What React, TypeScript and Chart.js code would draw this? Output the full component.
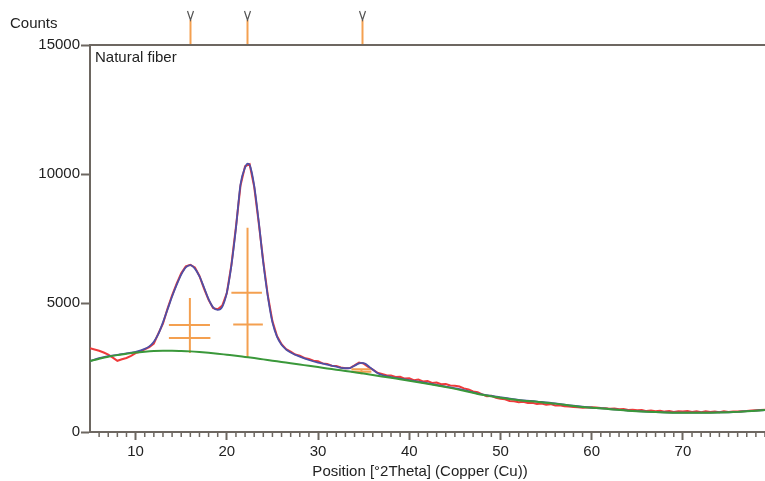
import React, { useEffect, useRef } from "react";
import { Chart, registerables } from "chart.js";

Chart.register(...registerables);

// ---- data ----
const obsStart = 5;
const obsStep = 0.5;
const observedCounts = [
  3250, 3200, 3150, 3080, 3000, 2880, 2760, 2820, 2870, 2950,
  3060, 3110, 3200, 3290, 3430, 3820, 4200, 4780, 5300, 5750,
  6150, 6420, 6480, 6380, 6050, 5560, 5120, 4800, 4760, 4900,
  5380, 6480, 7950, 9550, 10300, 10380, 9500, 8100, 6600, 5280,
  4300, 3720, 3400, 3210, 3120, 3000, 2960, 2870, 2830, 2760,
  2740, 2660, 2640, 2570, 2560, 2500, 2470, 2480, 2580, 2690,
  2650, 2520, 2420, 2300, 2250, 2200, 2190, 2130, 2140, 2070,
  2080, 2010, 2030, 1960, 1980, 1900, 1920, 1850, 1860, 1800,
  1790, 1760, 1690, 1650, 1570, 1540, 1460, 1390, 1400, 1330,
  1290, 1270, 1200, 1190, 1150, 1170, 1120, 1130, 1090, 1100,
  1060, 1080, 1030, 1040, 1000, 990, 970, 960, 940, 950,
  960, 950, 930, 920, 900, 910, 880, 890, 850, 860,
  840, 850, 810, 830, 800, 820, 790, 810, 780, 800,
  790, 810, 780, 800, 770, 800, 780, 790, 770, 800,
  780, 790, 790, 800, 810, 830, 840, 850, 860,
];

const fitPos = [
  5, 6, 7, 8, 9, 10, 11, 11.5, 12, 12.5, 13, 13.5, 14, 14.5, 15, 15.5, 16, 16.5,
  17, 17.5, 18, 18.5, 19, 19.5, 20, 20.5, 21, 21.5, 22, 22.3, 22.5, 23, 23.5, 24,
  24.5, 25, 25.5, 26, 26.5, 27, 28, 29, 30, 31, 32, 33, 33.5, 34, 34.5, 34.8, 35.2,
  35.6, 36, 36.5, 37, 38, 39, 40, 42, 44, 46, 48, 50, 52, 54, 56, 58, 60, 62, 64,
  66, 68, 70, 72, 74, 76, 78, 79,
];
const fitCounts = [
  2750, 2860, 2940, 2990, 3050, 3110, 3220, 3320, 3500, 3800, 4250, 4750, 5250, 5700, 6100, 6380, 6470, 6330,
  6030, 5600, 5150, 4830, 4730, 4850, 5400, 6450, 7900, 9600, 10250, 10400, 10350, 9550, 8150, 6550,
  5250, 4250, 3700, 3380, 3200, 3080, 2920, 2790, 2690, 2610, 2530, 2470, 2480, 2570, 2660, 2680, 2640,
  2530, 2420, 2290, 2210, 2130, 2070, 2010, 1890, 1760, 1620, 1455, 1345, 1248, 1180, 1108, 1018, 946, 890, 830,
  790, 764, 753, 750, 757, 782, 826, 851,
];

const bgPos = [
  5, 6, 7, 8, 9, 10, 11, 12, 13, 14, 15, 16, 17, 18, 19, 20, 21, 22, 23, 24, 25, 26,
  27, 28, 29, 30, 31, 32, 33, 34, 35, 36, 37, 38, 39, 40, 42, 44, 46, 48, 50, 52,
  54, 56, 58, 60, 62, 64, 66, 68, 70, 72, 74, 76, 78, 79,
];
const bgCounts = [
  2750, 2840, 2920, 2980, 3030, 3080, 3115, 3140, 3150, 3150, 3140, 3125, 3100, 3070, 3035, 2995, 2955, 2910, 2865, 2815, 2765, 2715,
  2665, 2615, 2565, 2515, 2465, 2415, 2365, 2315, 2265, 2210, 2155, 2100, 2045, 1990, 1870, 1740, 1600, 1440, 1330, 1235,
  1170, 1100, 1010, 940, 885, 825, 785, 760, 750, 748, 755, 780, 825, 850,
];

// peak markers (orange crosses)
const peakPos = [15.95, 22.27, 34.76];
const peakTop = [5190, 7920, 2470];
const peakBase = [3060, 2870, 2240];
const barUpperY = [4150, 5400, 2430];
const barUpperFrom = [13.65, 20.5, 33.66];
const barUpperTo = [18.15, 23.85, 35.85];
const barLowerY = [3640, 4170, 2340];
const barLowerFrom = [13.65, 20.7, 33.66];
const barLowerTo = [18.2, 23.95, 35.85];

// reference lines above the plot
const refLinePos = [15.96, 22.2, 34.8];

const xTicks = [10, 20, 30, 40, 50, 60, 70];
const yTicks = [0, 5000, 10000, 15000];
const xMin = 5;
const xMax = 79;
const yMax = 15000;

const sampleName = "Natural fiber";
const yLabel = "Counts";
const xLabel = "Position [°2Theta] (Copper (Cu))";

// ---- styles ----
const AXIS = "#6d6761";
const TEXT = "#222222";
const RED = "#ee3b3b";
const BLUE = "#4e4fa6";
const GREEN = "#3a983a";
const ORANGE = "#f4a050";
const FONT = "'Liberation Sans', Arial, sans-serif";

const decor = {
  id: "decor",
  afterDraw(chart: any) {
    const { ctx, chartArea: a } = chart;
    const x = chart.scales.x;
    ctx.save();
    // top frame line
    ctx.strokeStyle = AXIS;
    ctx.lineWidth = 2;
    ctx.beginPath();
    ctx.moveTo(a.left, a.top);
    ctx.lineTo(a.right, a.top);
    ctx.stroke();
    // minor ticks
    ctx.lineWidth = 1.5;
    ctx.beginPath();
    for (let v = Math.ceil(xMin) + 1; v <= xMax; v++) {
      if (v % 10 === 0) continue;
      const px = x.getPixelForValue(v);
      ctx.moveTo(px, a.bottom);
      ctx.lineTo(px, a.bottom + 5);
    }
    ctx.stroke();
    // reference lines above plot
    refLinePos.forEach((p) => {
      const px = Math.round(x.getPixelForValue(p)) + 0.5;
      ctx.strokeStyle = ORANGE;
      ctx.lineWidth = 2;
      ctx.beginPath();
      ctx.moveTo(px, a.top - 25);
      ctx.lineTo(px, a.top - 1);
      ctx.stroke();
      ctx.strokeStyle = "#555555";
      ctx.lineWidth = 1.2;
      ctx.beginPath();
      ctx.moveTo(px - 3, a.top - 34);
      ctx.lineTo(px, a.top - 25);
      ctx.lineTo(px + 3, a.top - 34);
      ctx.stroke();
    });
    // texts
    ctx.fillStyle = TEXT;
    ctx.font = `15px ${FONT}`;
    ctx.textBaseline = "middle";
    ctx.textAlign = "left";
    ctx.fillText(yLabel, 10, 24);
    ctx.fillText(sampleName, 95, a.top + 13);
    ctx.textAlign = "center";
    ctx.fillText(xLabel, 420, 472);
    ctx.restore();
  },
};

function buildCrosses() {
  const pts: any[] = [];
  for (let i = 0; i < peakPos.length; i++) {
    pts.push({ x: peakPos[i], y: peakTop[i] }, { x: peakPos[i], y: peakBase[i] }, { x: peakPos[i], y: null });
    pts.push({ x: barUpperFrom[i], y: barUpperY[i] }, { x: barUpperTo[i], y: barUpperY[i] }, { x: barUpperTo[i], y: null });
    pts.push({ x: barLowerFrom[i], y: barLowerY[i] }, { x: barLowerTo[i], y: barLowerY[i] }, { x: barLowerTo[i], y: null });
  }
  return pts;
}

export default function App() {
  const ref = useRef<HTMLCanvasElement>(null);
  useEffect(() => {
    if (!ref.current) return;
    const observed = observedCounts.map((c, i) => ({ x: obsStart + i * obsStep, y: c }));
    const fit = fitPos.map((p, i) => ({ x: p, y: fitCounts[i] }));
    const bg = bgPos.map((p, i) => ({ x: p, y: bgCounts[i] }));
    const chart = new Chart(ref.current, {
      type: "line",
      data: {
        datasets: [
          { label: "obs", data: observed, borderColor: RED, borderWidth: 2, pointRadius: 0, tension: 0, order: 4 },
          { label: "crosses", data: buildCrosses(), borderColor: ORANGE, borderWidth: 2, pointRadius: 0, spanGaps: false, tension: 0, order: 3 },
          { label: "fit", data: fit, borderColor: BLUE, borderWidth: 1.8, pointRadius: 0, cubicInterpolationMode: "monotone", order: 2 },
          { label: "bg", data: bg, borderColor: GREEN, borderWidth: 2, pointRadius: 0, cubicInterpolationMode: "monotone", order: 1 },
        ],
      },
      options: {
        responsive: false,
        animation: false,
        layout: { padding: { top: 45, left: 0, right: 0, bottom: 0 } },
        plugins: { legend: { display: false }, tooltip: { enabled: false } },
        scales: {
          x: {
            type: "linear",
            min: xMin,
            max: xMax,
            afterFit: (s: any) => { s.height = 49; },
            afterBuildTicks: (s: any) => { s.ticks = xTicks.map((v) => ({ value: v })); },
            grid: { drawOnChartArea: false, drawTicks: true, tickLength: 8, tickColor: AXIS, tickWidth: 2 },
            border: { display: true, color: AXIS, width: 2 },
            ticks: { color: TEXT, font: { family: FONT, size: 15 }, padding: 3, maxRotation: 0, autoSkip: false, callback: (v: any) => String(v) },
          },
          y: {
            type: "linear",
            min: 0,
            max: yMax,
            afterFit: (s: any) => { s.width = 90; },
            afterBuildTicks: (s: any) => { s.ticks = yTicks.map((v) => ({ value: v })); },
            grid: { drawOnChartArea: false, drawTicks: true, tickLength: 9, tickColor: AXIS, tickWidth: 2 },
            border: { display: true, color: AXIS, width: 2 },
            ticks: { color: TEXT, font: { family: FONT, size: 15 }, padding: 1, callback: (v: any) => String(v) },
          },
        },
      },
      plugins: [decor],
    });
    return () => chart.destroy();
  }, []);
  return (
    <div style={{ position: "fixed", left: 0, top: 0, width: 765, height: 481, background: "#fff" }}>
      <canvas ref={ref} width={765} height={481} style={{ display: "block" }} />
    </div>
  );
}
